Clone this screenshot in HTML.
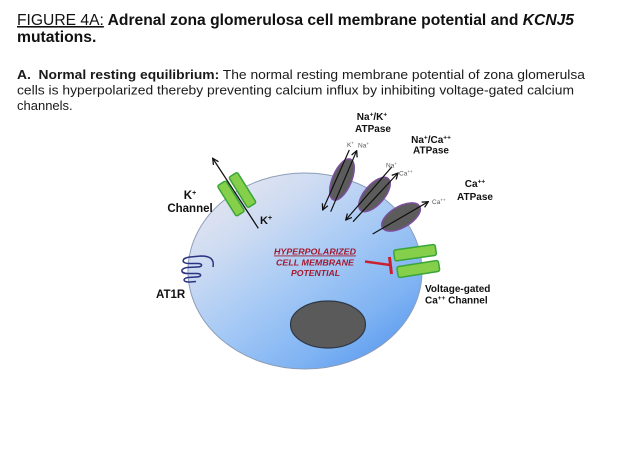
<!DOCTYPE html>
<html>
<head>
<meta charset="utf-8">
<style>
html,body{margin:0;padding:0;background:#fff;}
svg{display:block;}
text{font-family:"Liberation Sans",Arial,sans-serif;}
</style>
</head>
<body>
<svg width="624" height="468" viewBox="0 0 624 468" xmlns="http://www.w3.org/2000/svg">
<defs>
  <linearGradient id="cellg" x1="0.1" y1="0" x2="0.95" y2="1">
    <stop offset="0" stop-color="#ebe8ef"/>
    <stop offset="0.25" stop-color="#cddbf2"/>
    <stop offset="0.5" stop-color="#a5c9f5"/>
    <stop offset="0.75" stop-color="#7fb3f3"/>
    <stop offset="1" stop-color="#4d91ee"/>
  </linearGradient>
  <marker id="ah" viewBox="0 0 10 10" refX="9" refY="5" markerWidth="7.5" markerHeight="7.5" markerUnits="userSpaceOnUse" orient="auto">
    <path d="M1,1 L9,5 L1,9" fill="none" stroke="#111" stroke-width="1.7"/>
  </marker>
</defs>
<rect width="624" height="468" fill="#fff"/>

<!-- Title -->
<text x="17" y="25" font-size="15.7" fill="#111" textLength="557" lengthAdjust="spacingAndGlyphs"><tspan text-decoration="underline">FIGURE 4A:</tspan><tspan font-weight="bold"> Adrenal zona glomerulosa cell membrane potential and </tspan><tspan font-weight="bold" font-style="italic">KCNJ5</tspan></text>
<text x="17" y="42" font-size="15.7" font-weight="bold" fill="#111">mutations.</text>

<!-- Paragraph -->
<text x="17" y="79" font-size="13" fill="#1a1a1a" textLength="568" lengthAdjust="spacingAndGlyphs"><tspan font-weight="bold">A.&#160; Normal resting equilibrium:</tspan> The normal resting membrane potential of zona glomerulsa</text>
<text x="17" y="94.5" font-size="13" fill="#1a1a1a" textLength="557" lengthAdjust="spacingAndGlyphs">cells is hyperpolarized thereby preventing calcium influx by inhibiting voltage-gated calcium</text>
<text x="17" y="110" font-size="13" fill="#1a1a1a">channels.</text>

<!-- Cell -->
<ellipse cx="305" cy="271" rx="117" ry="98" fill="url(#cellg)" stroke="#8c9db8" stroke-width="1"/>
<!-- Nucleus -->
<ellipse cx="328" cy="324.5" rx="37.5" ry="23.5" fill="#5a5a5a" stroke="#2e3846" stroke-width="1.2"/>

<!-- K+ channel -->
<rect x="-5" y="-18" width="10" height="36" rx="2" transform="translate(231,198.5) rotate(-32)" fill="#86cf4a" stroke="#3aa53a" stroke-width="1.5"/>
<rect x="-5" y="-18" width="10" height="36" rx="2" transform="translate(242.5,190) rotate(-32)" fill="#86cf4a" stroke="#3aa53a" stroke-width="1.5"/>
<line x1="258.3" y1="228.3" x2="212.7" y2="158.3" stroke="#111" stroke-width="1.3" marker-end="url(#ah)"/>
<text x="190" y="199" font-size="11.5" font-weight="bold" text-anchor="middle" fill="#111">K<tspan font-size="7" dy="-4">+</tspan></text>
<text x="190" y="212" font-size="11.5" font-weight="bold" text-anchor="middle" fill="#111">Channel</text>
<text x="260" y="224" font-size="11" font-weight="bold" fill="#111">K<tspan font-size="7" dy="-4">+</tspan></text>

<!-- AT1R -->
<path d="M213,267 C214.5,259 210,256 201,256 L190,257 C181,258 181,263.5 189,263.5 L198,263.5 C203,263.5 203,267 197,267 L187,267.5 C180,268.5 180,273.5 188,273.5 L197,273.5 C202,273.5 202,277 196,277 L188,277.5 C182,278.5 183,282.5 190,282 L196,281.5" fill="none" stroke="#2b3480" stroke-width="1.5"/>
<text x="156" y="298" font-size="11.5" font-weight="bold" fill="#111">AT1R</text>

<!-- Na/K ATPase -->
<ellipse cx="0" cy="0" rx="9.5" ry="22" transform="translate(342,179.5) rotate(23)" fill="#5c5c5c" stroke="#7d4f9e" stroke-width="1.5"/>
<line x1="349.3" y1="150" x2="322.7" y2="210" stroke="#111" stroke-width="1.2" marker-end="url(#ah)"/>
<line x1="330.7" y1="211.7" x2="356.7" y2="150.7" stroke="#111" stroke-width="1.2" marker-end="url(#ah)"/>
<text x="347" y="147" font-size="6.5" fill="#555">K<tspan font-size="4.5" dy="-2.5">+</tspan></text>
<text x="358" y="147.5" font-size="6.5" fill="#555">Na<tspan font-size="4.5" dy="-2.5">+</tspan></text>
<text x="372" y="120" font-size="10" font-weight="bold" text-anchor="middle" fill="#111">Na<tspan font-size="6.5" dy="-3.5">+</tspan><tspan dy="3.5">/K</tspan><tspan font-size="6.5" dy="-3.5">+</tspan></text>
<text x="373" y="132" font-size="10" font-weight="bold" text-anchor="middle" fill="#111">ATPase</text>

<!-- Na/Ca ATPase -->
<ellipse cx="0" cy="0" rx="10" ry="21" transform="translate(374.5,194.5) rotate(41)" fill="#5c5c5c" stroke="#7d4f9e" stroke-width="1.5"/>
<line x1="391.7" y1="167" x2="345.7" y2="220" stroke="#111" stroke-width="1.2" marker-end="url(#ah)"/>
<line x1="353" y1="221.7" x2="398" y2="173" stroke="#111" stroke-width="1.2" marker-end="url(#ah)"/>
<text x="386" y="167.5" font-size="6.5" fill="#555">Na<tspan font-size="4.5" dy="-2.5">+</tspan></text>
<text x="399" y="175.5" font-size="6.5" fill="#555">Ca<tspan font-size="4.5" dy="-2.5">++</tspan></text>
<text x="431" y="143" font-size="10" font-weight="bold" text-anchor="middle" fill="#111">Na<tspan font-size="6.5" dy="-3.5">+</tspan><tspan dy="3.5">/Ca</tspan><tspan font-size="6.5" dy="-3.5">++</tspan></text>
<text x="431" y="153.5" font-size="10" font-weight="bold" text-anchor="middle" fill="#111">ATPase</text>

<!-- Ca ATPase -->
<ellipse cx="0" cy="0" rx="21.5" ry="10.5" transform="translate(401,217) rotate(-30)" fill="#5c5c5c" stroke="#7d4f9e" stroke-width="1.5"/>
<line x1="372.7" y1="234" x2="428.3" y2="201.7" stroke="#111" stroke-width="1.2" marker-end="url(#ah)"/>
<text x="432" y="204" font-size="6.5" fill="#555">Ca<tspan font-size="4.5" dy="-2.5">++</tspan></text>
<text x="475" y="187" font-size="10" font-weight="bold" text-anchor="middle" fill="#111">Ca<tspan font-size="6.5" dy="-3.5">++</tspan></text>
<text x="475" y="200" font-size="10" font-weight="bold" text-anchor="middle" fill="#111">ATPase</text>

<!-- Voltage-gated Ca channel -->
<rect x="-21" y="-5.5" width="42" height="11" rx="2" transform="translate(415,252.7) rotate(-8)" fill="#86cf4a" stroke="#3aa53a" stroke-width="1.5"/>
<rect x="-21" y="-5.5" width="42" height="11" rx="2" transform="translate(418.3,269) rotate(-9)" fill="#86cf4a" stroke="#3aa53a" stroke-width="1.5"/>
<text x="425" y="292" font-size="10" font-weight="bold" fill="#111">Voltage-gated</text>
<text x="425" y="303.5" font-size="10" font-weight="bold" fill="#111">Ca<tspan font-size="6.5" dy="-3.5">++</tspan><tspan dy="3.5"> Channel</tspan></text>

<!-- Inhibition -->
<line x1="365" y1="261.5" x2="390" y2="265" stroke="#cc1f2e" stroke-width="2.5"/>
<line x1="389.5" y1="257" x2="391.5" y2="274" stroke="#cc1f2e" stroke-width="3"/>

<!-- Hyperpolarized text -->
<g font-size="8.5" font-weight="bold" font-style="italic" fill="#a3182e" text-anchor="middle">
  <text x="315" y="254.5" text-decoration="underline" textLength="82" lengthAdjust="spacingAndGlyphs">HYPERPOLARIZED</text>
  <text x="315" y="265.5" textLength="78" lengthAdjust="spacingAndGlyphs">CELL MEMBRANE</text>
  <text x="315.5" y="276" textLength="49" lengthAdjust="spacingAndGlyphs">POTENTIAL</text>
</g>
</svg>
</body>
</html>
